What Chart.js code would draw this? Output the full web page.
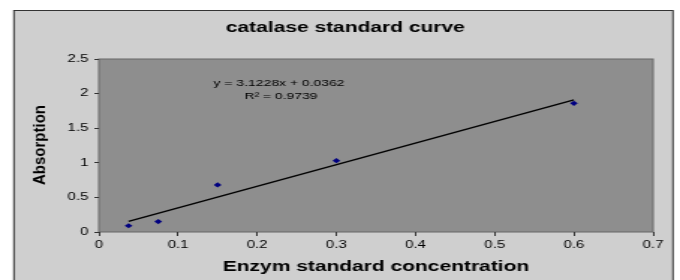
<!DOCTYPE html>
<html>
<head>
<meta charset="utf-8">
<script src="https://cdn.jsdelivr.net/npm/chart.js@4.4.1/dist/chart.umd.min.js"></script>
<style>
  html, body { margin: 0; padding: 0; background: #fff; overflow: hidden; }
  /* the reference is stretched sideways, so the chart is drawn narrow and widened */
  #wrap { width: 454px; height: 280px; transform: scaleX(1.4978); transform-origin: 0 0; }
</style>
</head>
<body>
<div id="wrap"><canvas id="curve" width="454" height="280"></canvas></div>
<script>
// measured points
const concentration = [0.0375, 0.075, 0.15, 0.3, 0.6];
const absorption = [0.09, 0.15, 0.68, 1.03, 1.86];

// linear trend line ends (y = 3.1228x + 0.0362)
const trendX = [0.0375, 0.6];
const trendY = [0.153, 1.910];

const xTicks = [0, 0.1, 0.2, 0.3, 0.4, 0.5, 0.6, 0.7];
const yTicks = [0, 0.5, 1, 1.5, 2, 2.5];

const FONT = '"Liberation Sans", Arial, sans-serif';
const SX = 1.4978; // horizontal stretch of the wrapper

// grey frame, plot background, equation and rotated y title
const excelLook = {
    id: 'excelLook',
    beforeDraw(chart) {
        const { ctx, chartArea: a } = chart;
        ctx.save();
        ctx.fillStyle = '#ffffff';
        ctx.fillRect(0, 0, chart.width, chart.height);
        ctx.fillStyle = '#cfcfcf';
        ctx.fillRect(9.3, 10, 440, 280);
        ctx.strokeStyle = '#333';
        ctx.lineWidth = 1;
        ctx.strokeRect(9.3, 10.5, 440, 280);
        ctx.fillStyle = '#8e8e8e';
        ctx.fillRect(a.left, a.top, a.right - a.left, a.bottom - a.top);
        ctx.strokeStyle = '#666';
        ctx.strokeRect(a.left, a.top, a.right - a.left, a.bottom - a.top);
        ctx.restore();
    },
    afterDraw(chart) {
        const ctx = chart.ctx;
        ctx.save();
        ctx.fillStyle = '#000';
        ctx.font = '9.3px ' + FONT;
        ctx.textAlign = 'center';
        ctx.textBaseline = 'middle';
        ctx.fillText('y = 3.1228x + 0.0362', 186.3, 83.5);
        ctx.fillText('R\u00b2 = 0.9739', 187.6, 96);

        // y title without the sideways stretch
        ctx.translate(41 / SX, 145);
        ctx.scale(1 / SX, 1);
        ctx.rotate(-Math.PI / 2);
        ctx.font = 'bold 15px ' + FONT;
        ctx.fillText('Absorption', 0, 0);
        ctx.restore();
    }
};

new Chart(document.getElementById('curve'), {
    type: 'scatter',
    data: {
        datasets: [
            {
                label: 'catalase',
                data: concentration.map((x, i) => ({ x: x, y: absorption[i] })),
                pointStyle: 'rectRot',
                pointRadius: 2.6,
                backgroundColor: '#000080',
                borderColor: '#000080',
                borderWidth: 0
            },
            {
                label: 'Linear',
                data: trendX.map((x, i) => ({ x: x, y: trendY[i] })),
                showLine: true,
                pointRadius: 0,
                borderColor: '#000',
                borderWidth: 1.3
            }
        ]
    },
    options: {
        responsive: false,
        animation: false,
        layout: { padding: { left: 7, right: 0, top: 0, bottom: 0 } },
        plugins: {
            legend: { display: false },
            tooltip: { enabled: false },
            title: {
                display: true,
                text: 'catalase standard curve',
                color: '#000',
                font: { family: FONT, size: 14, weight: 'bold' },
                padding: { top: 19.3, bottom: 22.9 }
            }
        },
        scales: {
            x: {
                type: 'linear',
                min: 0,
                max: 0.7,
                afterBuildTicks: s => { s.ticks = xTicks.map(v => ({ value: v })); },
                afterFit: s => { s.height = 48; },
                grid: { drawOnChartArea: false, drawTicks: true, tickLength: 4, color: '#333' },
                border: { display: false },
                ticks: {
                    color: '#000',
                    padding: 3,
                    maxRotation: 0,
                    font: { family: FONT, size: 10 },
                    callback: v => String(v)
                },
                title: {
                    display: true,
                    text: 'Enzym standard concentration',
                    color: '#000',
                    font: { family: FONT, size: 14, weight: 'bold' },
                    padding: { top: 0, bottom: 4.6 }
                }
            },
            y: {
                type: 'linear',
                min: 0,
                max: 2.5,
                afterBuildTicks: s => { s.ticks = yTicks.map(v => ({ value: v })); },
                afterFit: s => { s.width = 59; },
                grid: { drawOnChartArea: false, drawTicks: true, tickLength: 3, color: '#333' },
                border: { display: false },
                ticks: {
                    color: '#000',
                    padding: 4,
                    font: { family: FONT, size: 10 },
                    callback: v => String(v)
                }
            },
            // empty strip on the right so the plot ends where the reference does
            spacer: {
                type: 'linear',
                position: 'right',
                afterFit: s => { s.width = 18; },
                grid: { display: false },
                border: { display: false },
                ticks: { display: false }
            }
        }
    },
    plugins: [excelLook]
});
</script>
</body>
</html>
